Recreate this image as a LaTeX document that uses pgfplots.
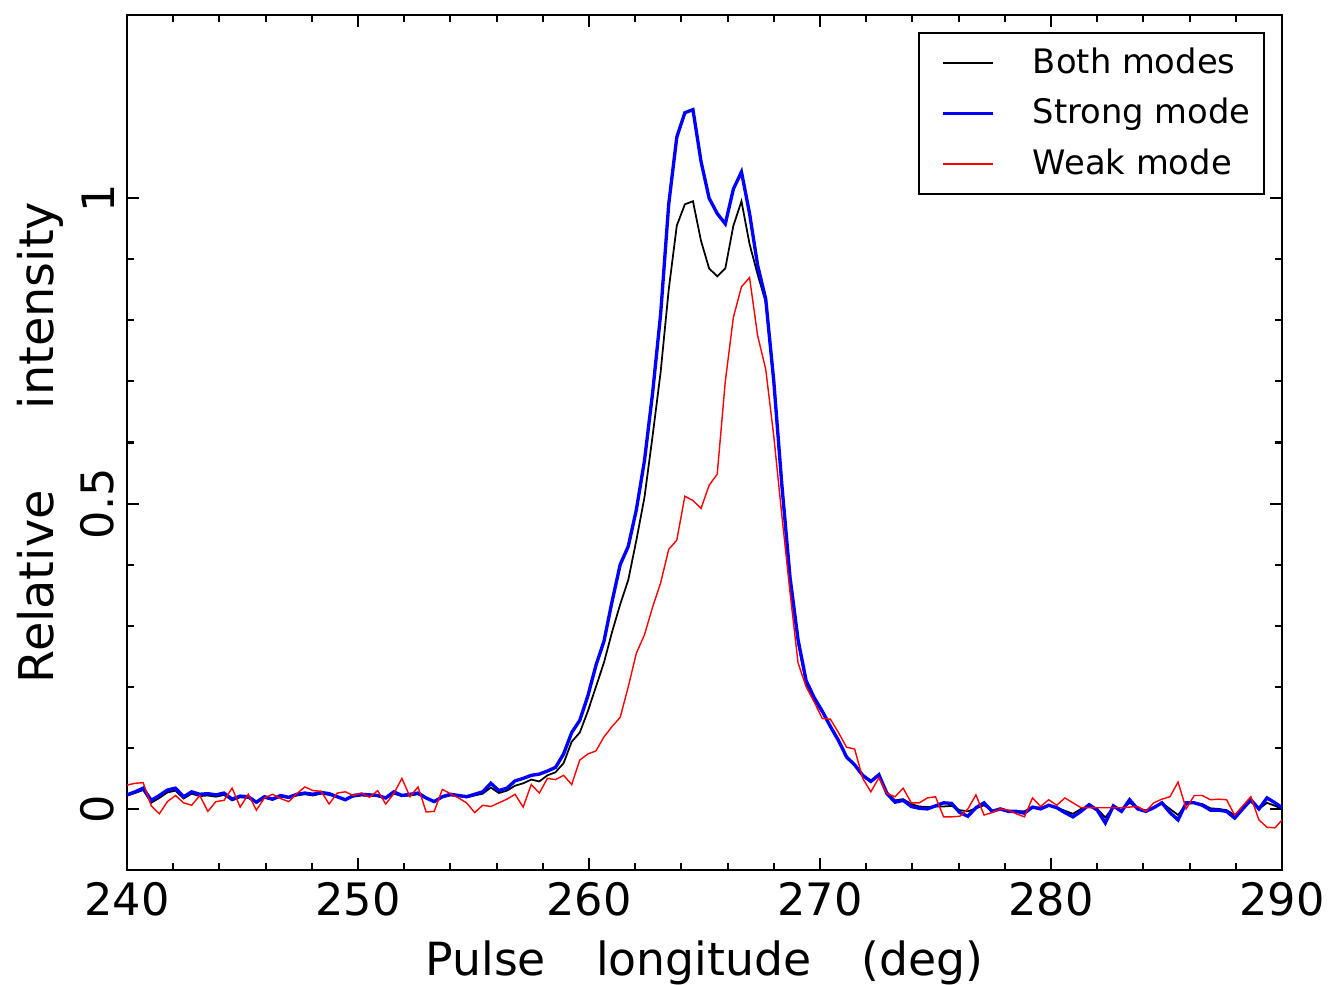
\documentclass[border=0pt]{standalone}
\usepackage{fontspec}
\setmainfont{DejaVu Sans}
\usepackage{pgfplots}
\usepackage{pgfplotstable}
\pgfplotsset{compat=1.18}

% pulse profile: longitude, both modes, strong mode, weak mode
\pgfplotstableread{
x      both    strong  weak
240.00 0.022   0.023   0.039
240.35 0.026   0.028   0.042
240.70 0.031   0.034   0.043
241.05 0.010   0.014   0.005
241.40 0.018   0.022  -0.008
241.75 0.027   0.031   0.012
242.10 0.030   0.034   0.022
242.45 0.017   0.020   0.010
242.80 0.025   0.028   0.006
243.15 0.021   0.024   0.022
243.50 0.022   0.025  -0.004
243.85 0.020   0.023   0.012
244.20 0.023   0.026   0.014
244.55 0.014   0.016   0.034
244.90 0.019   0.021   0.003
245.25 0.018   0.020   0.024
245.60 0.010   0.011  -0.002
245.95 0.018   0.020   0.018
246.30 0.015   0.016   0.024
246.65 0.020   0.022   0.017
247.00 0.018   0.019   0.012
247.35 0.022   0.024   0.025
247.70 0.024   0.026   0.036
248.05 0.022   0.024   0.030
248.40 0.025   0.027   0.029
248.75 0.023   0.025   0.008
249.10 0.019   0.020   0.026
249.45 0.016   0.015   0.028
249.80 0.020   0.022   0.022
250.15 0.022   0.024   0.026
250.50 0.021   0.023   0.019
250.85 0.021   0.022   0.030
251.20 0.017   0.018   0.008
251.55 0.025   0.028   0.025
251.90 0.021   0.022   0.050
252.25 0.022   0.024   0.020
252.60 0.024   0.026   0.036
252.95 0.017   0.018  -0.005
253.30 0.012   0.012  -0.004
253.65 0.019   0.020   0.032
254.00 0.022   0.024   0.025
254.35 0.021   0.022   0.018
254.70 0.019   0.020   0.010
255.05 0.022   0.024  -0.006
255.40 0.025   0.028   0.006
255.75 0.035   0.042   0.004
256.10 0.026   0.030   0.010
256.45 0.030   0.034   0.016
256.80 0.038   0.046   0.024
257.15 0.042   0.050   0.003
257.50 0.048   0.055   0.040
257.85 0.045   0.057   0.026
258.20 0.055   0.062   0.050
258.55 0.060   0.068   0.048
258.90 0.075   0.090   0.055
259.25 0.110   0.125   0.040
259.60 0.125   0.145   0.080
259.95 0.160   0.185   0.090
260.30 0.200   0.235   0.095
260.65 0.240   0.275   0.118
261.00 0.290   0.340   0.135
261.35 0.335   0.400   0.150
261.70 0.375   0.430   0.200
262.05 0.440   0.490   0.255
262.40 0.510   0.570   0.285
262.75 0.610   0.680   0.330
263.10 0.715   0.810   0.370
263.45 0.850   0.990   0.425
263.80 0.955   1.100   0.440
264.15 0.990   1.140   0.512
264.50 0.995   1.145   0.505
264.85 0.930   1.060   0.492
265.20 0.885   1.000   0.530
265.55 0.872   0.975   0.548
265.90 0.885   0.958   0.700
266.25 0.955   1.015   0.805
266.60 0.995   1.043   0.855
266.95 0.925   0.975   0.870
267.30 0.875   0.890   0.775
267.65 0.830   0.835   0.720
268.00 0.695   0.700   0.610
268.35 0.525   0.530   0.480
268.70 0.375   0.380   0.355
269.05 0.272   0.277   0.239
269.40 0.206   0.210   0.200
269.75 0.178   0.182   0.175
270.10 0.158   0.160   0.148
270.45 0.134   0.135   0.147
270.80 0.112   0.112   0.125
271.15 0.086   0.085   0.101
271.50 0.073   0.072   0.098
271.85 0.056   0.055   0.050
272.20 0.046   0.045   0.028
272.55 0.054   0.056   0.051
272.90 0.027   0.025   0.025
273.25 0.014   0.011   0.020
273.60 0.016   0.014   0.034
273.95 0.008   0.004   0.010
274.30 0.004   0.001   0.010
274.65 0.003   0.000   0.018
275.00 0.004   0.005   0.020
275.35 0.004   0.010  -0.013
275.70 0.005   0.009  -0.013
276.05 -0.002 -0.006  -0.012
276.40 -0.004 -0.012   0.000
276.75 0.001   0.002   0.023
277.10 0.006   0.010  -0.010
277.45 -0.003 -0.004  -0.006
277.80 0.000   0.000   0.000
278.15 -0.003 -0.004  -0.002
278.50 -0.004 -0.004  -0.008
278.85 -0.004 -0.007  -0.013
279.20 0.003   0.003   0.018
279.55 0.002   0.000   0.004
279.90 0.006   0.006   0.015
280.25 0.002   0.002   0.006
280.60 -0.003 -0.006   0.018
280.95 -0.008 -0.013   0.010
281.30 0.000  -0.004   0.002
281.65 0.004   0.007   0.002
282.00 0.000  -0.002   0.002
282.35 -0.014 -0.023   0.002
282.70 0.003   0.005   0.002
283.05 -0.002 -0.004   0.002
283.40 0.010   0.015   0.003
283.75 0.002   0.000   0.004
284.10 -0.003 -0.004  -0.004
284.45 0.003   0.002   0.010
284.80 0.010   0.010   0.016
285.15 0.000  -0.006   0.020
285.50 -0.010 -0.018   0.044
285.85 0.008   0.010   0.000
286.20 0.010   0.010   0.022
286.55 0.008   0.006   0.022
286.90 0.001  -0.002   0.015
287.25 0.000  -0.002   0.016
287.60 -0.002 -0.004   0.015
287.95 -0.010 -0.015  -0.010
288.30 0.001   0.000   0.005
288.65 0.012   0.015   0.020
289.00 0.000   0.000  -0.018
289.35 0.010   0.018  -0.030
289.70 0.005   0.010  -0.031
290.00 0.000   0.002  -0.018
}\profile

\begin{document}
\begin{tikzpicture}
\begin{axis}[
    scale only axis,
    width=11.55cm,
    height=8.55cm,
    xmin=240, xmax=290,
    ymin=-0.1, ymax=1.3,
    xtick={240,250,...,290},
    ytick={0,0.5,1},
    minor x tick num=4,
    minor y tick num=4,
    tick pos=both,
    tick align=inside,
    major tick length=0.12cm,
    minor tick length=0.07cm,
    axis line style={line width=0.7pt},
    every tick/.style={black, line width=0.6pt},
    /pgf/number format/assume math mode=true,
    ticklabel style={font=\fontsize{12.7}{15}\selectfont},
    yticklabel style={rotate=90, anchor=south},
    xlabel={Pulse\hspace{1.1em}longitude\hspace{1.1em}(deg)},
    ylabel={Relative\hspace{1.7em}intensity},
    xlabel style={font=\fontsize{13}{15}\selectfont},
    ylabel style={font=\fontsize{13.6}{16}\selectfont, yshift=-0.07cm},
    legend style={
      at={(0.985,0.98)}, anchor=north east,
      draw=black, line width=0.6pt,
      font=\fontsize{9.6}{12}\selectfont,
      row sep=1.5pt,
      column sep=0.38cm,
      inner xsep=3.7pt, inner ysep=2.2pt,
      nodes={inner xsep=0pt},
    },
    legend cell align=left,
    legend image code/.code={
      \path (0cm,0cm);
      \draw[#1] (0.1cm,0cm) -- (0.6cm,0cm);
    },
]
\addplot[black, line width=0.5pt] table[x=x, y=both] {\profile};
\addlegendentry{Both modes}
\addplot[blue, line width=0.95pt] table[x=x, y=strong] {\profile};
\addlegendentry{Strong mode}
\addplot[red, line width=0.4pt] table[x=x, y=weak] {\profile};
\addlegendentry{Weak mode}
\end{axis}
\pgfresetboundingbox
\path (current axis.south west) ++(-1.27cm,-1.15cm) coordinate (bl);
\path (current axis.north east) ++(0.55cm,0.15cm) coordinate (tr);
\path[use as bounding box] (bl) rectangle (tr);
\end{tikzpicture}
\end{document}
